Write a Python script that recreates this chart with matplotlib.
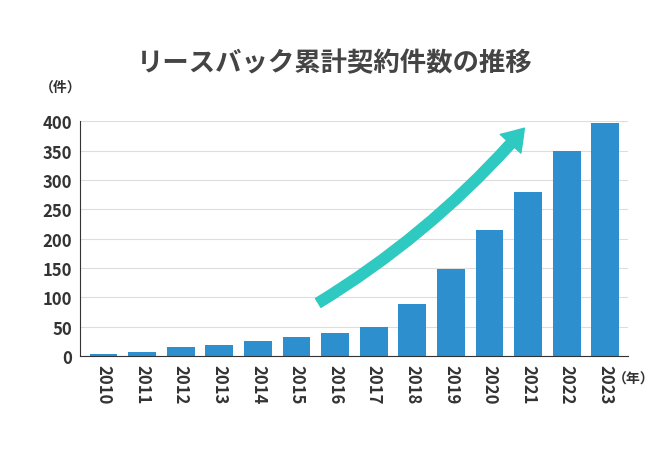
import matplotlib.pyplot as plt
from matplotlib.patches import FancyArrowPatch

plt.rcParams["font.family"] = "Noto Sans CJK JP"

# data
years = [str(y) for y in range(2010, 2024)]
counts = [3, 7, 15, 19, 26, 33, 40, 50, 88, 149, 214, 279, 350, 398]
yticks = [0, 50, 100, 150, 200, 250, 300, 350, 400]

fig = plt.figure(figsize=(6.7, 4.6), dpi=100)
ax = fig.add_axes([0.12, 0.224, 0.818, 0.51])

x = range(len(years))
ax.bar(x, counts, width=0.72, color="#2e8fcf", zorder=2)
ax.set_xlim(-0.6, len(years) - 0.4)
ax.set_ylim(0, 400)
ax.set_yticks(yticks)
ax.set_yticklabels([str(v) for v in yticks], fontsize=12, fontweight="bold", color="#333333")
ax.set_xticks(list(x))
ax.set_xticklabels(years, rotation=270, fontsize=12, fontweight="bold", color="#333333")
ax.tick_params(length=0, pad=6)
ax.grid(axis="y", color="#dddddd", lw=0.8, zorder=0)
for s in ["top", "right"]:
    ax.spines[s].set_visible(False)
ax.spines["left"].set_color("#333333")
ax.spines["bottom"].set_color("#333333")

fig.text(0.5, 0.845, "リースバック累計契約件数の推移", ha="center", fontsize=19,
         fontweight="bold", color="#444444")
fig.text(0.06, 0.8, "（件）", fontsize=10, fontweight="bold", color="#333333")
fig.text(0.915, 0.165, "（年）", fontsize=10, fontweight="bold", color="#333333")

arrow = FancyArrowPatch((5.5, 88), (10.95, 392), connectionstyle="arc3,rad=0.08",
                        arrowstyle="simple,head_width=2.0,head_length=1.5,tail_width=0.75",
                        mutation_scale=10, color="#2ec9c0", zorder=3, clip_on=False)
ax.add_patch(arrow)

fig.savefig("out.png", dpi=100)
